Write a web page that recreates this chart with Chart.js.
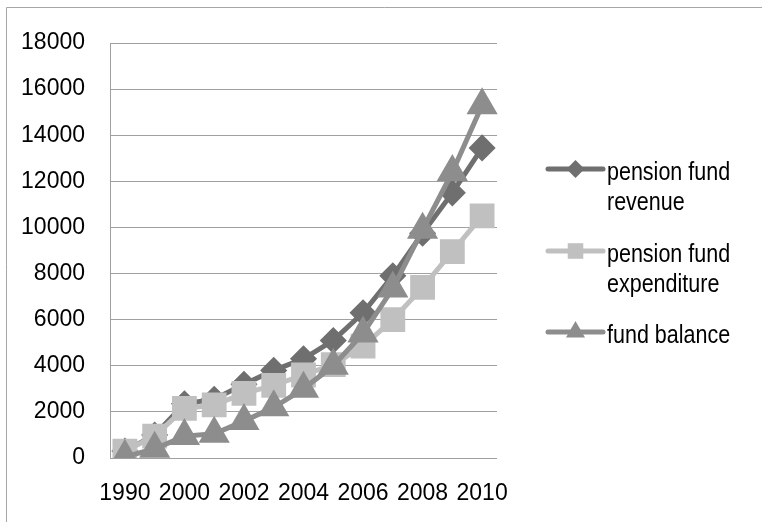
<!DOCTYPE html>
<html lang="en">
<head>
  <meta charset="UTF-8">
  <title>Pension fund revenue, expenditure and balance</title>
  <script src="https://cdn.jsdelivr.net/npm/chart.js"></script>
  <style>
    body {
      margin: 0;
      background: #fff;
      overflow: hidden;
    }

    #wrap {
      position: relative;
      width: 762px;
      height: 522px;
    }
  </style>
</head>
<body>
  <div id="wrap"><canvas id="chartPension"></canvas></div>

  <script>
    const years = ['1990', '1995', '2000', '2001', '2002', '2003', '2004', '2005', '2006', '2007', '2008', '2009', '2010'];
    const revenue = [300, 1000, 2350, 2550, 3200, 3800, 4300, 5100, 6300, 7900, 9750, 11500, 13450];
    const expenditure = [300, 950, 2150, 2300, 2800, 3150, 3600, 4050, 4850, 6000, 7400, 8950, 10500];
    const balance = [50, 400, 950, 1050, 1600, 2200, 3000, 4000, 5400, 7350, 9900, 12400, 15300];
    const legendNames = [['pension fund', 'revenue'], ['pension fund', 'expenditure'], ['fund balance']];

    const FONT = "'Liberation Sans', Arial, sans-serif";
    Chart.defaults.font.family = FONT;
    Chart.defaults.font.size = 23;
    Chart.defaults.color = '#000';

    // outer frame (only left and top edges are visible in the original)
    const frame = {
      id: 'frame',
      beforeDraw(chart) {
        const ctx = chart.ctx;
        ctx.save();
        ctx.strokeStyle = '#a6a6a6';
        ctx.lineWidth = 1;
        ctx.beginPath();
        ctx.moveTo(6.5, chart.height);
        ctx.lineTo(6.5, 7.5);
        ctx.lineTo(chart.width, 7.5);
        ctx.stroke();
        ctx.restore();
      }
    };

    // legend drawn by hand: line + marker, two-line labels like the original
    const sideLegend = {
      id: 'sideLegend',
      afterDraw(chart) {
        const ctx = chart.ctx;
        const x0 = 548, x1 = 603, tx = 607;
        const tops = [180, 262, 343];
        const marks = [
          { pointStyle: 'rectRot', radius: 9, rotation: 0, borderWidth: 0 },
          { pointStyle: 'rect', radius: 11, rotation: 0, borderWidth: 0 },
          { pointStyle: 'triangle', radius: 11, rotation: 0, borderWidth: 0 }
        ];
        ctx.save();
        chart.data.datasets.forEach((ds, i) => {
          const ly = tops[i] - 11;
          ctx.strokeStyle = ds.borderColor;
          ctx.lineWidth = 5;
          ctx.lineCap = 'round';
          ctx.beginPath();
          ctx.moveTo(x0, ly);
          ctx.lineTo(x1, ly);
          ctx.stroke();
          ctx.fillStyle = ds.pointBackgroundColor;
          ctx.strokeStyle = ds.pointBackgroundColor;
          Chart.helpers.drawPoint(ctx, marks[i], (x0 + x1) / 2, ly);
          // narrow-looking text: squeeze horizontally
          ctx.fillStyle = '#000';
          ctx.font = '25px ' + FONT;
          ctx.textBaseline = 'alphabetic';
          ctx.textAlign = 'left';
          legendNames[i].forEach((t, k) => {
            ctx.save();
            ctx.translate(tx, tops[i] + k * 30);
            ctx.scale(0.86, 1);
            ctx.fillText(t, 0, 0);
            ctx.restore();
          });
        });
        ctx.restore();
      }
    };

    new Chart(document.getElementById('chartPension'), {
      type: 'line',
      data: {
        labels: years,
        datasets: [{
          label: 'pension fund revenue',
          data: revenue,
          borderColor: '#6f6f6f',
          pointBackgroundColor: '#6f6f6f',
          pointBorderColor: '#6f6f6f',
          pointStyle: 'rectRot',
          pointRadius: 10,
          borderWidth: 5,
          order: 2
        }, {
          label: 'pension fund expenditure',
          data: expenditure,
          borderColor: '#c0c0c0',
          pointBackgroundColor: '#c0c0c0',
          pointBorderColor: '#c0c0c0',
          pointStyle: 'rect',
          pointRadius: 14,
          borderWidth: 5,
          order: 1
        }, {
          label: 'fund balance',
          data: balance,
          borderColor: '#8d8d8d',
          pointBackgroundColor: '#8d8d8d',
          pointBorderColor: '#8d8d8d',
          pointStyle: 'triangle',
          pointRadius: 13,
          borderWidth: 5,
          order: 0
        }]
      },
      options: {
        responsive: true,
        maintainAspectRatio: false,
        animation: false,
        layout: { padding: { top: 43, right: 265, bottom: 0, left: 0 } },
        plugins: {
          legend: { display: false },
          tooltip: { enabled: false }
        },
        elements: {
          line: { tension: 0 },
          point: { borderWidth: 1 }
        },
        scales: {
          x: {
            offset: true,
            grid: { display: false },
            border: { display: false },
            ticks: {
              autoSkip: false,
              maxRotation: 0,
              padding: 14,
              callback: (v, i) => (i % 2 === 0 ? years[i] : '')
            },
            afterFit: (s) => { s.height = 64; }
          },
          y: {
            min: 0,
            max: 18000,
            grid: { color: '#a0a0a0', lineWidth: 1, drawTicks: false },
            border: { display: true, color: '#a0a0a0', width: 1 },
            ticks: { stepSize: 2000, padding: 25, callback: (v) => String(v) },
            afterFit: (s) => { s.width = 110; }
          }
        }
      },
      plugins: [frame, sideLegend]
    });
  </script>
</body>
</html>
